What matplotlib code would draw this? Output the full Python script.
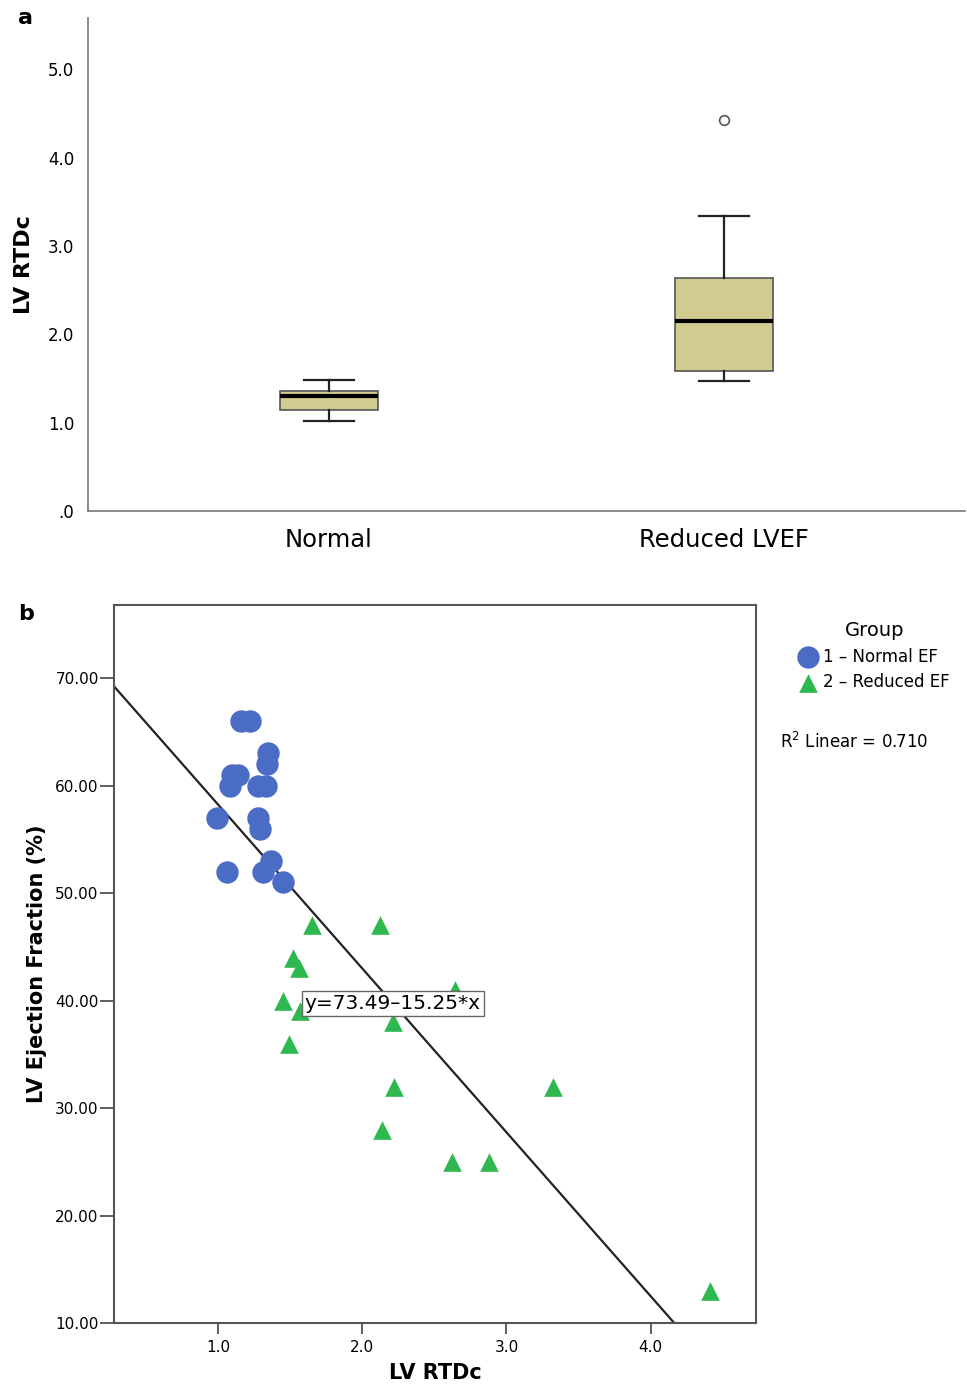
import matplotlib.pyplot as plt
import numpy as np

# panel a: box statistics
groups = ["Normal", "Reduced LVEF"]
whis_lo = [1.02, 1.47]
q1 = [1.14, 1.59]
med = [1.30, 2.15]
q3 = [1.355, 2.64]
whis_hi = [1.48, 3.34]
fliers = [[], [4.43]]

# panel b: scatter points
normal_x = [1.16, 1.22, 1.35, 1.34, 1.10, 1.14, 1.08, 1.28, 1.33, 0.99, 1.28, 1.29, 1.37, 1.06, 1.31, 1.45]
normal_y = [66, 66, 63, 62, 61, 61, 60, 60, 60, 57, 57, 56, 53, 52, 52, 51]
reduced_x = [1.65, 2.12, 1.52, 1.56, 2.64, 1.45, 1.57, 2.21, 1.49, 2.22, 3.32, 2.14, 2.62, 2.88, 4.41]
reduced_y = [47, 47, 44, 43, 41, 40, 39, 38, 36, 32, 32, 28, 25, 25, 13]
intercept = 73.49
slope = -15.25
r2 = 0.710

W, H = 967, 1393
fig = plt.figure(figsize=(W / 100, H / 100), dpi=100)

# ---------------- a
ax1 = fig.add_axes([88 / W, 1 - 511 / H, (965 - 88) / W, (511 - 18) / H])
stats = []
for i in range(len(groups)):
    stats.append(dict(med=med[i], q1=q1[i], q3=q3[i], whislo=whis_lo[i],
                      whishi=whis_hi[i], fliers=fliers[i], label=groups[i]))
ax1.bxp(stats, positions=[0, 1], widths=0.25, capwidths=0.125, patch_artist=True,
        boxprops=dict(facecolor="#d1cb8f", edgecolor="#555555", linewidth=1.2),
        medianprops=dict(color="black", linewidth=3),
        whiskerprops=dict(color="#222222", linewidth=1.6),
        capprops=dict(color="#222222", linewidth=1.6),
        flierprops=dict(marker="o", markerfacecolor="white", markeredgecolor="#555555",
                        markersize=7, markeredgewidth=1.2))
ax1.set_xlim(-0.61, 1.61)
ax1.set_ylim(0, 5.58)
ax1.set_yticks([0, 1, 2, 3, 4, 5])
ax1.set_yticklabels([".0", "1.0", "2.0", "3.0", "4.0", "5.0"], fontsize=12)
ax1.set_xticks([0, 1])
ax1.set_xticklabels(groups, fontsize=17.5)
ax1.tick_params(axis="y", length=0, pad=10)
ax1.tick_params(axis="x", length=0, pad=12)
for s in ["top", "right"]:
    ax1.spines[s].set_visible(False)
for s in ["left", "bottom"]:
    ax1.spines[s].set_color("#777777")
    ax1.spines[s].set_linewidth(1.2)
ax1.set_ylabel("LV RTDc", fontsize=16, fontweight="bold", labelpad=10)
fig.text(18 / W, 1 - 18 / H, "a", fontsize=16, fontweight="bold", va="center")

# ---------------- b
ax2 = fig.add_axes([114 / W, 1 - 1323 / H, (756 - 114) / W, (1323 - 605) / H])
ax2.scatter(normal_x, normal_y, s=260, color="#4a6cc4", marker="o", linewidths=0,
            label="1 – Normal EF", zorder=3)
ax2.scatter(reduced_x, reduced_y, s=180, color="#2fb84f", marker="^", linewidths=0,
            label="2 – Reduced EF", zorder=3)
xs = np.array([0.279, 4.73])
ax2.plot(xs, intercept + slope * xs, color="#222222", linewidth=1.6, zorder=2)
ax2.text(1.6, 39.7, "y=73.49–15.25*x", fontsize=14.5, ha="left", va="center", zorder=4,
         bbox=dict(boxstyle="square,pad=0.15", facecolor="white", edgecolor="#666666", linewidth=1))
ax2.set_xlim(0.279, 4.73)
ax2.set_ylim(10, 76.8)
ax2.set_yticks([10, 20, 30, 40, 50, 60, 70])
ax2.set_yticklabels(["%.2f" % v for v in [10, 20, 30, 40, 50, 60, 70]], fontsize=11)
ax2.set_xticks([1, 2, 3, 4])
ax2.set_xticklabels(["1.0", "2.0", "3.0", "4.0"], fontsize=11)
ax2.tick_params(axis="y", length=10, width=1.2, color="#444444", pad=1)
ax2.tick_params(axis="x", length=8, width=1.2, color="#444444", pad=4)
for s in ax2.spines.values():
    s.set_color("#555555")
    s.set_linewidth(1.5)
ax2.set_xlabel("LV RTDc", fontsize=15, fontweight="bold", labelpad=6)
ax2.set_ylabel("LV Ejection Fraction (%)", fontsize=15, fontweight="bold", labelpad=6)
fig.text(18 / W, 1 - 614 / H, "b", fontsize=16, fontweight="bold", va="center")

leg = ax2.legend(loc="upper left", bbox_to_anchor=(790 / W, 1 - 613 / H),
                 bbox_transform=fig.transFigure, frameon=False, title="Group",
                 fontsize=12, title_fontsize=14, handletextpad=0.3, labelspacing=0.45,
                 borderpad=0, handlelength=1.2)
fig.text(780 / W, 1 - 742 / H, "R$^2$ Linear = 0.710", fontsize=12, va="center")

fig.savefig("out.png", dpi=100)
